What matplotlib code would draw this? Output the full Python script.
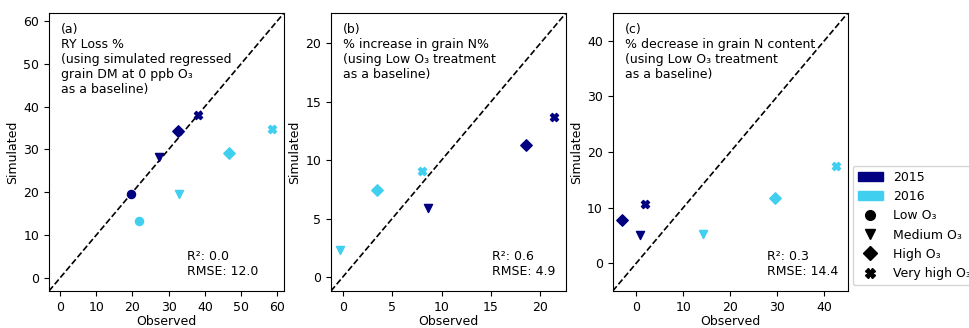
import matplotlib
matplotlib.use("Agg")
import matplotlib.pyplot as plt
from matplotlib.patches import Patch
from matplotlib.lines import Line2D

plt.rcParams['font.size'] = 9

# treatments and years
treatments = ['Low O\u2083', 'Medium O\u2083', 'High O\u2083', 'Very high O\u2083']
markers = ['o', 'v', 'D', 'X']
years = ['2015', '2016']
year_colors = ['#000080', '#41cff0']

# (a) RY loss %
a_obs_2015 = [19.6, 27.2, 32.6, 38.1]
a_sim_2015 = [19.6, 28.3, 34.2, 38.1]
a_obs_2016 = [21.9, 32.8, 46.5, 58.5]
a_sim_2016 = [13.2, 19.6, 29.1, 34.8]

# (b) % increase in grain N% (no Low O3 point, it is the baseline)
b_obs_2015 = [None, 8.6, 18.5, 21.4]
b_sim_2015 = [None, 5.9, 11.3, 13.7]
b_obs_2016 = [None, -0.25, 3.5, 8.0]
b_sim_2016 = [None, 2.35, 7.45, 9.1]

# (c) % decrease in grain N content
c_obs_2015 = [None, 0.8, -3.1, 1.9]
c_sim_2015 = [None, 5.1, 7.8, 10.7]
c_obs_2016 = [None, 14.1, 29.5, 42.6]
c_sim_2016 = [None, 5.3, 11.8, 17.4]

panels = [
    ("(a)\nRY Loss %\n(using simulated regressed\ngrain DM at 0 ppb O\u2083\nas a baseline)",
     [(a_obs_2015, a_sim_2015), (a_obs_2016, a_sim_2016)],
     (-3.0, 61.8), [0, 10, 20, 30, 40, 50, 60],
     "R\u00b2: 0.0\nRMSE: 12.0", (0.587, 0.045)),
    ("(b)\n% increase in grain N%\n(using Low O\u2083 treatment\nas a baseline)",
     [(b_obs_2015, b_sim_2015), (b_obs_2016, b_sim_2016)],
     (-1.2, 22.6), [0, 5, 10, 15, 20],
     "R\u00b2: 0.6\nRMSE: 4.9", (0.684, 0.045)),
    ("(c)\n% decrease in grain N content\n(using Low O\u2083 treatment\nas a baseline)",
     [(c_obs_2015, c_sim_2015), (c_obs_2016, c_sim_2016)],
     (-5.0, 45.0), [0, 10, 20, 30, 40],
     "R\u00b2: 0.3\nRMSE: 14.4", (0.658, 0.045)),
]

fig = plt.figure(figsize=(9.7, 3.28), dpi=100)
lefts = [0.0505, 0.3412, 0.6317]

for left, (title, series, lims, ticks, stats, stats_pos) in zip(lefts, panels):
    ax = fig.add_axes([left, 0.1128, 0.2423, 0.8476])
    for (obs, sim), col in zip(series, year_colors):
        for x, y, m in zip(obs, sim, markers):
            if x is None:
                continue
            ax.scatter(x, y, marker=m, color=col, s=34, zorder=3)
    ax.plot(lims, lims, 'k--', lw=1.2, zorder=2)
    ax.set_xlim(lims)
    ax.set_ylim(lims)
    ax.set_xticks(ticks)
    ax.set_yticks(ticks)
    ax.set_xlabel("Observed", labelpad=1)
    ax.set_ylabel("Simulated", labelpad=3)
    ax.text(0.05, 0.965, title, transform=ax.transAxes, va='top', ha='left')
    ax.text(stats_pos[0], stats_pos[1], stats, transform=ax.transAxes,
            va='bottom', ha='left')

handles = [Patch(color=c, label=y) for c, y in zip(year_colors, years)]
handles += [Line2D([], [], marker=m, color='k', ls='none', markersize=7, label=t)
            for m, t in zip(markers, treatments)]
fig.legend(handles=handles, loc='lower left', bbox_to_anchor=(0.879, 0.131),
           bbox_transform=fig.transFigure, borderaxespad=0, fontsize=9)

fig.savefig("out.png", dpi=100)
